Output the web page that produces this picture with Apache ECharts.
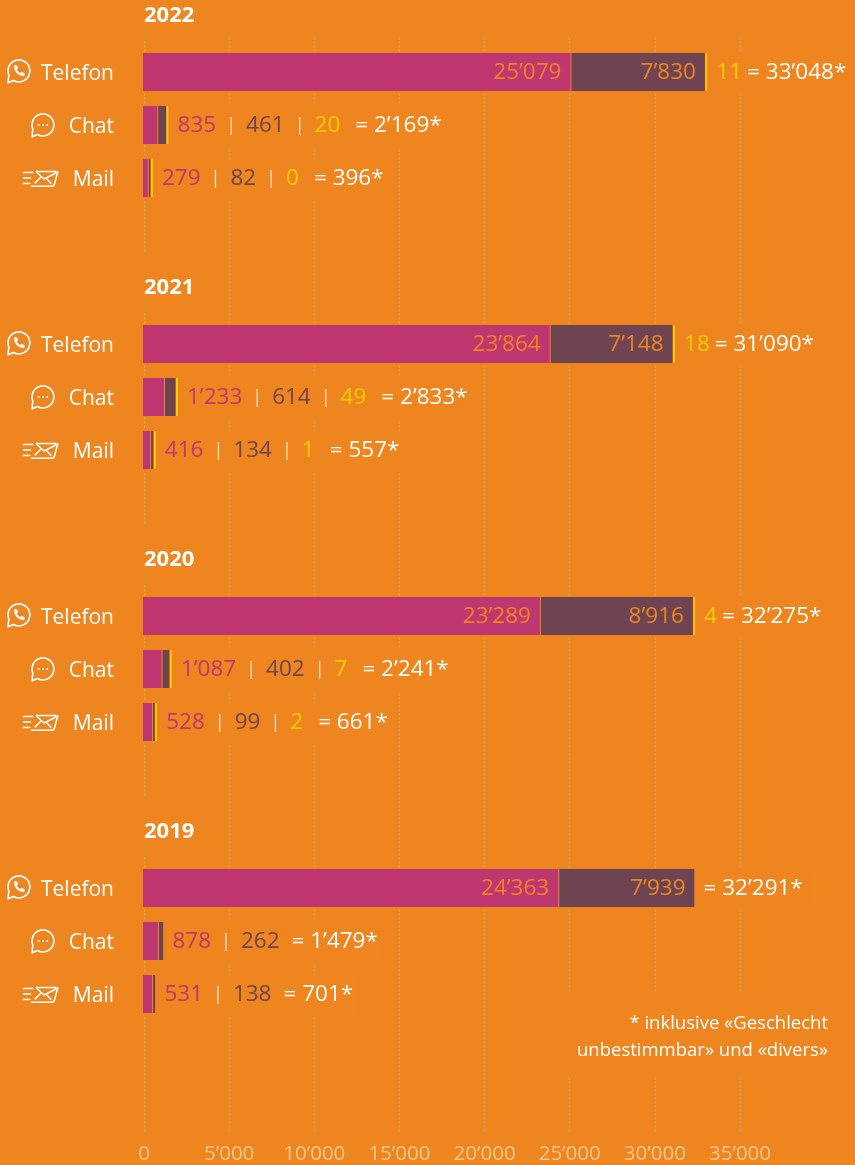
<!DOCTYPE html>
<html><head><meta charset="utf-8">
<style>html,body{margin:0;padding:0;background:#EE851F}#c{width:855px;height:1165px}</style>
<script src="https://cdn.jsdelivr.net/npm/echarts@6/dist/echarts.min.js"></script>
</head><body><div id="c"></div>
<script>
const years = ['2022','2021','2020','2019'];
const channels = ['Telefon','Chat','Mail'];
const tickValuesMax = 35000, tickStep = 5000;

const pink2022 = [25079, 835, 279];
const dark2022 = [7830, 461, 82];
const yellow2022 = [11, 20, 0];
const total2022 = [33048, 2169, 396];

const pink2021 = [23864, 1233, 416];
const dark2021 = [7148, 614, 134];
const yellow2021 = [18, 49, 1];
const total2021 = [31090, 2833, 557];

const pink2020 = [23289, 1087, 528];
const dark2020 = [8916, 402, 99];
const yellow2020 = [4, 7, 2];
const total2020 = [32275, 2241, 661];

const pink2019 = [24363, 878, 531];
const dark2019 = [7939, 262, 138];
const yellow2019 = [null, null, null];
const total2019 = [32291, 1479, 701];

const pinks = [pink2022, pink2021, pink2020, pink2019];
const darks = [dark2022, dark2021, dark2020, dark2019];
const yellows = [yellow2022, yellow2021, yellow2020, yellow2019];
const totals = [total2022, total2021, total2020, total2019];

const BG = '#EE851F', PINK = '#BE3770', DARK = '#6E4453', YEL = '#FFCC00', FONT = '"Open Sans", sans-serif';
const fmt = v => String(v).replace(/\B(?=(\d{3})+$)/g, '\u2019');
const NUM = 22.5;

const gridTop = 45.5, yearPitch = 272, gridH = 159;

function rowLabel(y, i) {
  const p = pinks[y][i], d = darks[y][i], c = yellows[y][i], t = totals[y][i];
  const eq = '{t|= ' + fmt(t) + '*}';
  if (i === 0) return (c === null ? '' : '{c0|' + fmt(c) + '}') + eq;
  if (c === null) return '{a|' + fmt(p) + '}{s||}{b2|' + fmt(d) + '}' + eq;
  return '{a|' + fmt(p) + '}{s||}{b|' + fmt(d) + '}{s||}{c|' + fmt(c) + '}' + eq;
}
const txt = fill => ({fill, fontSize: NUM, fontFamily: FONT, lineHeight: 26});
const rich = {
  a: txt(PINK), b: txt(DARK), t: txt('#fff'),
  b2: {...txt(DARK), padding: [0, 12, 0, 0]},
  c0: {...txt(YEL), padding: [0, 5, 0, 0]},
  c: {...txt(YEL), padding: [0, 15, 0, 0]},
  s: {fill: '#FFE3C4', fontSize: 18, fontFamily: FONT, padding: [0, 10], lineHeight: 26}
};

function renderRow(y) {
  return function (params, api) {
    const i = params.dataIndex;
    const p = api.value(0), d = api.value(1), c = api.value(2), row = api.value(3);
    const zero = api.coord([0, row]);
    const x0 = zero[0], cy = zero[1], H = 38, top = cy - H / 2;
    const pw = api.coord([p, row])[0] - x0;
    const dw = Math.max(api.coord([d, row])[0] - x0, 1.7);
    const hasC = !isNaN(c) && yellows[y][i] !== null;
    const cw = hasC ? Math.max(api.coord([c, row])[0] - x0, 2) : 0;
    const pEnd = x0 + pw, dStart = pEnd + 1, dEnd = dStart + dw;
    const cStart = dEnd + 0.5, end = hasC ? cStart + cw : dEnd;
    const children = [
      {type: 'rect', shape: {x: x0, y: cy - 21, width: end - x0, height: 42}, style: {fill: BG}},
      {type: 'rect', shape: {x: x0, y: top, width: pw, height: H}, style: {fill: PINK}},
      {type: 'rect', shape: {x: dStart, y: top, width: dw, height: H}, style: {fill: DARK}}
    ];
    if (hasC) children.push({type: 'rect', shape: {x: cStart, y: top, width: cw, height: H}, style: {fill: YEL}});
    if (i === 0) {
      const inner = (t, x) => ({type: 'text', style: {text: t, x, y: cy + 1, align: 'right', verticalAlign: 'middle', fill: BG, fontSize: NUM, fontFamily: FONT}});
      children.push(inner(fmt(pinks[y][i]), pEnd - 9), inner(fmt(darks[y][i]), dEnd - 9));
    }
    children.push({type: 'text', style: {
      text: rowLabel(y, i), rich, x: end, y: cy + 1.5, align: 'left', verticalAlign: 'middle',
      backgroundColor: BG, padding: [7, 6, 8, 9]
    }});
    return {type: 'group', children};
  };
}

const grid = [{left: 144, width: 596, top: 38, height: 1096}];
const xAxis = [{
  gridIndex: 0, type: 'value', min: 0, max: tickValuesMax, interval: tickStep,
  axisLine: {show: false}, axisTick: {show: false},
  axisLabel: {color: '#FBC78C', fontSize: 20.5, fontFamily: FONT, margin: 12, formatter: fmt},
  splitLine: {show: true, lineStyle: {color: 'rgba(255,255,255,0.8)', width: 1, type: [1, 3]}}
}];
const yAxis = [{gridIndex: 0, type: 'value', show: false}];
const series = [];
const title = [];

years.forEach((yr, y) => {
  const g = y + 1;
  grid.push({left: 143, width: 596.5, top: gridTop + y * yearPitch, height: gridH});
  xAxis.push({gridIndex: g, type: 'value', min: 0, max: tickValuesMax, show: false, splitLine: {show: false}});
  yAxis.push({
    gridIndex: g, type: 'category', inverse: true, data: channels,
    axisLine: {show: false}, axisTick: {show: false},
    axisLabel: {color: '#fff', fontSize: 21, fontFamily: FONT, margin: 29, verticalAlign: 'top', lineHeight: 4}
  });
  series.push({
    type: 'custom', name: yr, xAxisIndex: g, yAxisIndex: g, animation: false, silent: true, clip: false,
    encode: {x: [0, 1, 2], y: 3},
    data: channels.map((ch, i) => [pinks[y][i], darks[y][i], yellows[y][i], i]),
    renderItem: renderRow(y)
  });
  title.push({
    text: yr, left: 141, top: 3 + y * yearPitch - (y ? 24 : 0),
    padding: [y ? 24 : 0, 4, 10, 3], backgroundColor: BG,
    textStyle: {color: '#fff', fontSize: 22, fontWeight: 700, fontFamily: FONT, lineHeight: 26}
  });
});

// Channel icons
const stroke = {fill: 'none', stroke: '#fff', lineWidth: 1.6, lineCap: 'round', lineJoin: 'round'};
const iconPaths = {
  bubble: 'M-10.2 4.2A11 11 0 1 1-5.5 9.5L-11 11.8Z',
  phone: 'M-4.6-5.4C-5.6 0-.2 5.6 5.2 4.6L5.6 2.4 2.6 1 1.2 2.2C-.4 1.6-1.6.2-2.2-1.2L-1-2.8-2.4-5.8Z',
  dots: 'M-5.4 0a1.1 1.1 0 1 0 2.2 0a1.1 1.1 0 1 0-2.2 0M-1.1 0a1.1 1.1 0 1 0 2.2 0a1.1 1.1 0 1 0-2.2 0M3.2 0a1.1 1.1 0 1 0 2.2 0a1.1 1.1 0 1 0-2.2 0',
  env: 'M-3.5-6.5H16.5Q18-6.5 17.5-5L14.5 6Q14 8.2 12 8.2H-8.5',
  flap: 'M-3-5.5L4 1 16-5M-5 4.8L1-1M7 1L11 5.5',
  speed: 'M-16.5-5.5H-7M-16.5 0H-9.5M-16.5 5.5H-10.5'
};
Object.keys(iconPaths).forEach(k => {
  echarts.graphic.registerShape('icon_' + k, echarts.graphic.extendPath(iconPaths[k], {}));
});
const pathEl = (k, style) => ({type: 'icon_' + k, style: style || stroke});
const graphicEls = [];
years.forEach((yr, y) => {
  const dy = y * yearPitch;
  graphicEls.push({type: 'group', x: 19, y: 71 + dy, z: 10, children: [
    pathEl('bubble'),
    pathEl('phone', {fill: '#fff', stroke: '#fff', lineWidth: 0.4})
  ]});
  graphicEls.push({type: 'group', x: 43, y: 125 + dy, z: 10, children: [
    pathEl('bubble'),
    pathEl('dots', {fill: '#fff', stroke: 'none'})
  ]});
  graphicEls.push({type: 'group', x: 40, y: 178 + dy, z: 10, children: [
    pathEl('env'), pathEl('flap'), pathEl('speed')
  ]});
});
graphicEls.push({
  type: 'text', x: 828, y: 992, z: 10,
  style: {
    text: '* inklusive «Geschlecht\nunbestimmbar» und «divers»',
    fill: '#fff', fontSize: 18.5, fontFamily: FONT, lineHeight: 27, align: 'right',
    backgroundColor: BG, padding: [18, 0, 12, 12]
  }
});

const chart = echarts.init(document.getElementById('c'), null, {renderer: 'canvas'});
chart.setOption({
  backgroundColor: BG, animation: false, textStyle: {fontFamily: FONT},
  title, grid, xAxis, yAxis, series,
  tooltip: {show: false},
  graphic: {elements: graphicEls}
});
</script></body></html>
